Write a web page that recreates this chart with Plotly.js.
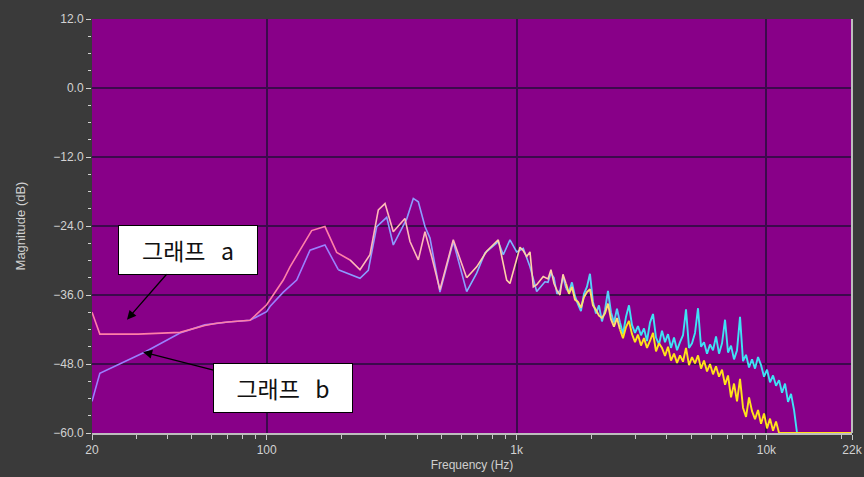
<!DOCTYPE html>
<html>
<head>
<meta charset="utf-8">
<script src="https://cdn.plot.ly/plotly-3.0.1.min.js"></script>
<style>
  html, body { margin: 0; padding: 0; background: #3a3a3a; }
  #chart { width: 864px; height: 477px; }
</style>
</head>
<body>
<div id="chart"></div>
<script>
// ---- Data ----
const freqA = [20, 21.5, 30.6, 45.0, 56.5, 63.1, 70.0, 85.8, 100, 116.6, 124, 151.4, 171.1, 190.7, 215.5, 236.3, 259.1, 279.8, 297.6, 321.2, 357.6, 374.6, 404.4, 430.0, 457.4, 493.7, 558.2, 631.5, 692.6, 759.2, 845.0, 913, 941, 1032, 1064, 1098, 1132, 1167, 1204, 1279,
  1336, 1373, 1412, 1451, 1492, 1534, 1577, 1621, 1666, 1713, 1761, 1810, 1861, 1913, 1967, 2022, 2079, 2137, 2197, 2259, 2322, 2387, 2454, 2523, 2594, 2667, 2741, 2818, 2897, 2979, 3062, 3148, 3236, 3327, 3420, 3516, 3615, 3716, 3820, 3927, 4038, 4151, 4267, 4387, 4510, 4636, 4766, 4900, 5037, 5178, 5324, 5473, 5626, 5784, 5946, 6113, 6284, 6461, 6642, 6828, 7019, 7216, 7418, 7626, 7840, 8060, 8286, 8518, 8757, 9002, 9255, 9514, 9781, 10055, 10337, 10627, 10925, 11231, 11546, 11869, 12202, 12544, 12896, 13257, 13629, 16000, 22000];
const dbA = [-39.0, -42.8, -42.8, -42.5, -41.3, -40.9, -40.7, -40.4, -37.7, -33.4, -31.1, -24.8, -24.1, -28.6, -29.9, -31.6, -29.0, -21.2, -20.1, -25.0, -22.7, -26.7, -29.9, -25.0, -29.3, -35.1, -26.4, -33.0, -31.1, -28.4, -26.4, -33.4, -34.0, -27.7, -28.3, -29.3, -28.5, -34.6, -34.2, -32.8,
  -33.2, -31.6, -34.0, -35.2, -36.0, -32.4, -34.0, -35.8, -34.6, -36.8, -37.2, -38.2, -36.4, -35.5, -35.0, -37.8, -38.6, -39.6, -40.0, -39.2, -37.5, -40.2, -41.5, -40.0, -42.0, -43.5, -41.6, -40.5, -42.8, -44.2, -42.9, -44.8, -43.5, -45.2, -44.0, -42.6, -45.8, -44.4, -45.2, -46.6, -45.0, -47.4, -46.2, -47.8, -46.5, -47.6, -45.2, -48.2, -46.8, -47.9, -46.5, -48.8, -47.4, -49.3, -48.0, -49.8, -48.4, -50.2, -49.0, -51.6, -50.0, -53.8, -51.4, -54.5, -50.6, -55.6, -57.2, -53.8, -56.2, -57.6, -56.0, -58.4, -56.6, -59.2, -57.5, -59.6, -58.0, -60, -60, -60, -60, -60, -60, -60, -60, -60, -60];

const freqB = [20, 21.5, 32.3, 45.0, 56.5, 70.0, 85.8, 100, 103.1, 116.6, 131.9, 149.1, 171.1, 193.5, 236.3, 255.1, 275.7, 302.3, 321.2, 363.3, 386.2, 404.4, 430.0, 450.4, 493.7, 558.2, 631.5, 692.6, 747.4, 845.0, 885, 941, 1001, 1064, 1132, 1204, 1299,
  1336, 1373, 1412, 1451, 1492, 1534, 1577, 1621, 1666, 1713, 1761, 1810, 1861, 1913, 1967, 2022, 2079, 2137, 2197, 2259, 2322, 2387, 2454, 2523, 2594, 2667, 2741, 2818, 2897, 2979, 3062, 3148, 3236, 3327, 3420, 3516, 3615, 3716, 3820, 3927, 4038, 4151, 4267, 4387, 4510, 4636, 4766, 4900, 5037, 5178, 5324, 5473, 5626, 5784, 5946, 6113, 6284, 6461, 6642, 6828, 7019, 7216, 7418, 7626, 7840, 8060, 8286, 8518, 8757, 9002, 9255, 9514, 9781, 10055, 10337, 10627, 10925, 11231, 11546, 11869, 12202, 12544, 12896, 13257, 13629, 16000, 22000];
const dbB = [-54.5, -49.6, -46.0, -42.6, -41.2, -40.7, -40.4, -38.9, -38.0, -35.5, -33.4, -28.2, -27.3, -31.6, -33.1, -31.7, -24.1, -22.5, -27.3, -22.8, -19.2, -19.8, -24.1, -26.1, -35.5, -26.7, -35.4, -32.2, -28.7, -26.7, -29.0, -26.4, -28.5, -27.9, -31.1, -35.4, -33.7,
  -33.8, -32.2, -33.0, -35.8, -35.2, -32.8, -34.8, -35.5, -33.8, -36.2, -37.6, -38.8, -35.8, -34.6, -32.3, -37.2, -39.2, -37.8, -40.6, -38.6, -35.3, -39.0, -40.8, -38.4, -40.8, -42.8, -39.8, -37.8, -41.2, -42.6, -41.4, -43.0, -41.8, -44.0, -40.8, -39.3, -43.4, -44.6, -42.2, -44.2, -42.8, -45.2, -43.4, -45.6, -44.2, -43.0, -38.5, -45.2, -44.4, -42.6, -38.3, -45.0, -44.2, -46.2, -44.6, -45.6, -43.2, -46.2, -44.4, -40.3, -46.0, -44.8, -47.2, -45.6, -39.8, -47.5, -46.4, -48.6, -47.2, -48.8, -46.8, -48.2, -50.2, -49.0, -51.2, -50.0, -51.8, -50.8, -53.0, -51.4, -54.6, -53.2, -56.0, -60, -60, -60, -60];

const majorTickVals = [20, 100, 1000, 10000, 22000];
const majorTickText = ['20', '100', '1k', '10k', '22k'];
const minorTickVals = [30, 40, 50, 60, 70, 80, 90, 200, 300, 400, 500, 600, 700, 800, 900, 2000, 3000, 4000, 5000, 6000, 7000, 8000, 9000, 20000];
const labelA = '그래프\u00a0\u00a0\u00a0a';
const labelB = '그래프\u00a0\u00a0\u00a0b';

// colour bands (frequency boundaries) for the gradient-like look
const bandEdges = [20, 220, 650, 1600, 2600, 22001];
const colorsA = ['#ff7fa8', '#ffb8b8', '#ffd2a8', '#ffe070', '#ffe21a'];
const colorsB = ['#9a80ff', '#8c9cff', '#7cb8ff', '#55d0f8', '#3fe2f5'];

function bandTraces(fx, fy, colors, name) {
  const out = [];
  for (let b = 0; b < bandEdges.length - 1; b++) {
    const lo = bandEdges[b], hi = bandEdges[b + 1];
    let i0 = fx.findIndex(v => v >= lo);
    let i1 = -1;
    for (let i = 0; i < fx.length; i++) if (fx[i] < hi) i1 = i;
    if (i0 < 0 || i1 < 0) continue;
    if (i0 > 0) i0 -= 1;
    out.push({
      type: 'scatter', mode: 'lines',
      x: fx.slice(i0, i1 + 1), y: fy.slice(i0, i1 + 1),
      line: { color: colors[b], width: b >= 3 ? 1.9 : 1.6 },
      name: name, showlegend: false, hoverinfo: 'skip'
    });
  }
  return out;
}

const traces = [].concat(
  bandTraces(freqB, dbB, colorsB, 'b'),
  bandTraces(freqA, dbA, colorsA, 'a')
);

const tickFont = { family: 'Liberation Sans, Arial, sans-serif', size: 12, color: '#d2d2d2' };

const layout = {
  width: 864, height: 477,
  margin: { l: 92, r: 12, t: 19, b: 44 },
  paper_bgcolor: '#3a3a3a',
  plot_bgcolor: '#880088',
  showlegend: false,
  xaxis: {
    type: 'log',
    range: [Math.log10(20), Math.log10(22000)],
    tickmode: 'array', tickvals: majorTickVals, ticktext: majorTickText,
    ticks: 'outside', ticklen: 5, tickcolor: '#c8c8c8', tickwidth: 1,
    minor: { tickmode: 'array', tickvals: minorTickVals, ticks: 'outside', ticklen: 4, tickcolor: '#c8c8c8', showgrid: false },
    showgrid: true, gridcolor: '#3c0a4c', gridwidth: 2,
    showline: true, linecolor: '#bdbdbd', linewidth: 2,
    zeroline: false,
    tickfont: tickFont,
    title: { text: 'Frequency (Hz)', font: { family: 'Liberation Sans, Arial, sans-serif', size: 12, color: '#cfcfcf' }, standoff: 4 }
  },
  yaxis: {
    range: [-60, 12],
    tickmode: 'linear', tick0: 0, dtick: 12, tickformat: '.1f',
    ticks: 'outside', ticklen: 5, tickcolor: '#d0d0d0', tickwidth: 1,
    minor: { dtick: 3, ticks: 'outside', ticklen: 3, tickcolor: '#d0d0d0', showgrid: false },
    showgrid: true, gridcolor: '#3c0a4c', gridwidth: 2,
    showline: false, zeroline: false,
    tickfont: tickFont,
    title: { text: 'Magnitude (dB)', font: { family: 'Liberation Sans, Arial, sans-serif', size: 13, color: '#cfcfcf' }, standoff: 24 }
  },
  annotations: [
    {
      x: Math.log10(27.6), y: -40.3, xref: 'x', yref: 'y',
      ax: 61, ay: -70, axref: 'pixel', ayref: 'pixel',
      text: labelA, showarrow: true, arrowhead: 2, arrowsize: 1.4, arrowwidth: 1.3, arrowcolor: '#000',
      font: { family: 'Noto Sans CJK KR, sans-serif', size: 23, color: '#111' },
      bgcolor: '#ffffff', bordercolor: '#000000', borderwidth: 1, borderpad: 1,
      width: 136, height: 46
    },
    {
      x: Math.log10(32.0), y: -45.9, xref: 'x', yref: 'y',
      ax: 140, ay: 36, axref: 'pixel', ayref: 'pixel',
      text: labelB, showarrow: true, arrowhead: 2, arrowsize: 1.4, arrowwidth: 1.3, arrowcolor: '#000',
      font: { family: 'Noto Sans CJK KR, sans-serif', size: 23, color: '#111' },
      bgcolor: '#ffffff', bordercolor: '#000000', borderwidth: 1, borderpad: 1,
      width: 136, height: 46
    }
  ],
  shapes: [
    { type: 'line', xref: 'paper', yref: 'paper', x0: 1, x1: 1, y0: 0, y1: 1, line: { color: '#bdbdbd', width: 2 } }
  ]
};

Plotly.newPlot('chart', traces, layout, { staticPlot: true, displayModeBar: false });
</script>
</body>
</html>
